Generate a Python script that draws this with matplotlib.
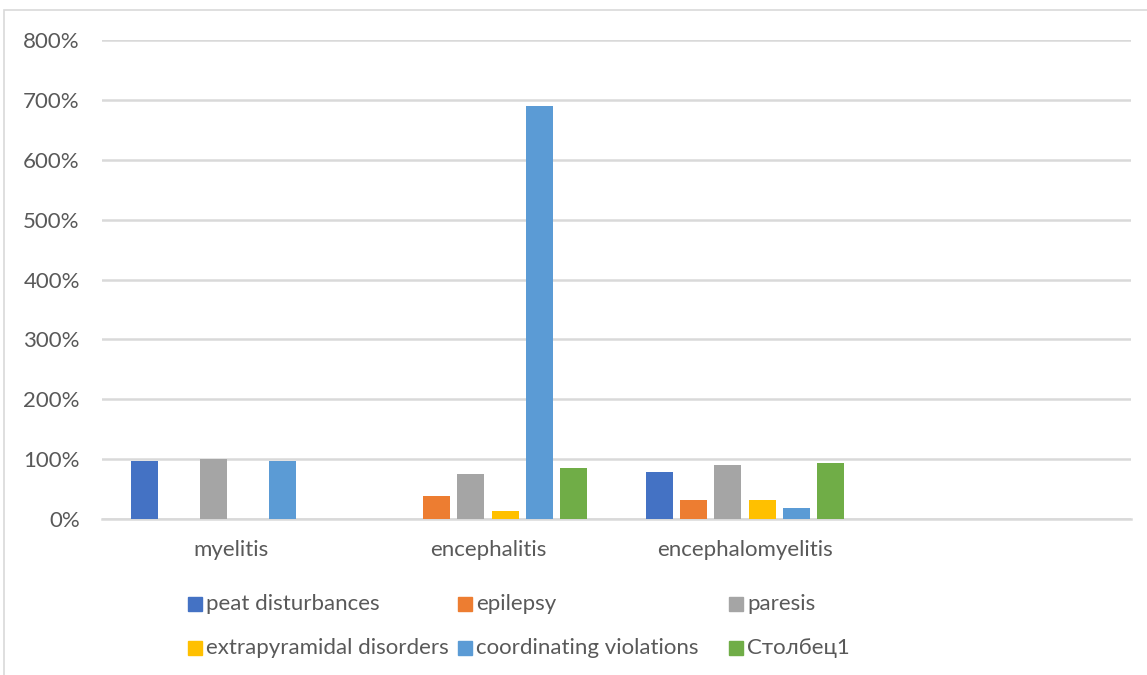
import matplotlib
matplotlib.use("Agg")
import matplotlib.pyplot as plt
from matplotlib.patches import Rectangle
from matplotlib.ticker import FuncFormatter
import numpy as np

plt.rcParams['font.family'] = ['Lato', 'DejaVu Sans']

categories = ["myelitis", "encephalitis", "encephalomyelitis", ""]
series_names = ["peat disturbances", "epilepsy", "paresis",
                "extrapyramidal disorders", "coordinating violations", "Столбец1"]
colors = ["#4472C4", "#ED7D31", "#A5A5A5", "#FFC000", "#5B9BD5", "#70AD47"]

# shares per category (1.0 = 100%)
peat = [0.97, 0.0, 0.78, 0.0]
epilepsy = [0.0, 0.39, 0.31, 0.0]
paresis = [1.00, 0.75, 0.91, 0.0]
extrapyramidal = [0.0, 0.13, 0.31, 0.0]
coordinating = [0.97, 6.90, 0.18, 0.0]
stolbets1 = [0.0, 0.85, 0.94, 0.0]
series = [peat, epilepsy, paresis, extrapyramidal, coordinating, stolbets1]

W, H = 1147, 675
fig = plt.figure(figsize=(W / 100, H / 100), dpi=100)
ax = fig.add_axes([102 / W, 1 - 519 / H, (1131 - 102) / W, (519 - 40) / H])

text_color = "#595959"
grid_color = "#D9D9D9"
fs = 16

x = np.arange(len(categories))
slot = 0.1335
bar_w = 0.105
for i, (vals, c) in enumerate(zip(series, colors)):
    ax.bar(x + (i - 2.5) * slot, vals, width=bar_w, color=c, zorder=3)

ax.set_xlim(-0.5, len(categories) - 0.5)
ax.set_ylim(0, 8)
ax.set_yticks(np.arange(0, 9, 1))
ax.yaxis.set_major_formatter(FuncFormatter(lambda v, p: f"{v * 100:.0f}%"))
ax.set_xticks(x)
ax.set_xticklabels(categories)
ax.grid(axis="y", color=grid_color, linewidth=1.8, zorder=0)
for s in ["top", "right", "left"]:
    ax.spines[s].set_visible(False)
ax.spines["bottom"].set_color(grid_color)
ax.spines["bottom"].set_linewidth(1.8)
ax.tick_params(axis="both", length=0, labelsize=fs, labelcolor=text_color)
ax.tick_params(axis="y", pad=16)
ax.tick_params(axis="x", pad=15)

# legend laid out as a 3x2 grid, row by row
col_x = [188, 458, 729]
row_y = [604, 648]
box = 14
for k, (name, c) in enumerate(zip(series_names, colors)):
    lx = col_x[k % 3]
    ly = row_y[k // 3]
    fig.patches.append(Rectangle((lx / W, 1 - (ly + box / 2) / H), box / W, box / H,
                                 transform=fig.transFigure, color=c))
    fig.text((lx + box + 4) / W, 1 - ly / H, name, fontsize=fs, color=text_color,
             va="center", ha="left")

# chart area frame
fig.patches.append(Rectangle((4 / W, -0.1), 1.2, 1 - 10 / H + 0.1,
                             transform=fig.transFigure, fill=False,
                             edgecolor=grid_color, linewidth=1.2))

fig.savefig("out.png", dpi=100)
